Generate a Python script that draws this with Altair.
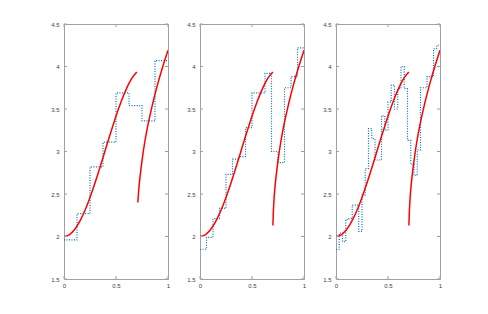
import altair as alt
import pandas as pd

# ---------------- data ----------------
x_ticks = [0, 0.5, 1]
y_ticks = [1.5, 2, 2.5, 3, 3.5, 4, 4.5]

# red curve, first branch (0 .. 0.7)
red1_x = [0, 0.05, 0.1, 0.15, 0.2, 0.25, 0.3, 0.35, 0.4, 0.45, 0.5, 0.55, 0.6, 0.65, 0.7]
red1_y = [2.000, 2.020, 2.079, 2.175, 2.303, 2.460, 2.638, 2.830, 3.029, 3.227,
          3.416, 3.589, 3.737, 3.857, 3.935]

# red curve, second branch (0.7 .. 1)
red2_x = [0.701, 0.705, 0.71, 0.72, 0.73, 0.75, 0.775, 0.8, 0.85, 0.9, 0.95, 1.0]
red2_y = [2.13, 2.28, 2.40, 2.57, 2.69, 2.89, 3.10, 3.27, 3.55, 3.79, 4.00, 4.19]
# first panel's second branch starts at x = 0.71
red2_start_panel1 = 2

# blue step approximations
levels_8 = [1.96, 2.27, 2.82, 3.11, 3.69, 3.54, 3.36, 4.07]
levels_16 = [1.85, 1.99, 2.21, 2.33, 2.73, 2.91, 2.94, 3.28,
             3.69, 3.69, 3.92, 3.00, 2.87, 3.75, 3.88, 4.22]
levels_32 = [1.85, 2.04, 1.94, 2.20, 2.21, 2.37, 2.37, 2.06,
             2.49, 2.80, 3.27, 3.15, 2.90, 2.90, 3.42, 3.25,
             3.58, 3.78, 3.50, 3.74, 4.00, 3.74, 3.13, 2.85,
             2.72, 3.02, 3.75, 3.75, 3.88, 3.88, 4.21, 4.25]

# ---------------- styling ----------------
W, H = 104, 255
BLUE = "#0072bd"
RED = "#ff0000"
BOX = "#a0a0a0"
TXT = "#404040"
TICK = 3

xs = alt.Scale(domain=[0, 1], nice=False, zero=False)
ys = alt.Scale(domain=[1.5, 4.5], nice=False, zero=False)

x_axis = alt.Axis(values=x_ticks, format="~g", ticks=False, domain=False, grid=False,
                  labelFontSize=6, labelColor=TXT, labelFont="Liberation Sans",
                  labelPadding=3, labelFlush=False, labelOverlap=False, title=None)
y_axis = alt.Axis(values=y_ticks, format="~g", ticks=False, domain=False, grid=False,
                  labelFontSize=6, labelColor=TXT, labelFont="Liberation Sans",
                  labelPadding=5, labelFlush=False, labelOverlap=False, title=None)

xt_df = pd.DataFrame({"t": x_ticks})
yt_df = pd.DataFrame({"t": y_ticks})


def panel(levels, r2_start):
    n = len(levels)
    step_df = pd.DataFrame({
        "x": [i / n for i in range(n)] + [1.0],
        "y": list(levels) + [levels[-1]],
    })
    red_df = pd.concat([
        pd.DataFrame({"x": red1_x, "y": red1_y, "seg": "a"}),
        pd.DataFrame({"x": red2_x[r2_start:], "y": red2_y[r2_start:], "seg": "b"}),
    ], ignore_index=True)

    blue = alt.Chart(step_df).mark_line(
        interpolate="step-after", color=BLUE, strokeWidth=1.2,
        strokeDash=[1, 1.5], clip=True
    ).encode(
        x=alt.X("x:Q", scale=xs, axis=x_axis),
        y=alt.Y("y:Q", scale=ys, axis=y_axis),
    )
    red = alt.Chart(red_df).mark_line(
        interpolate="monotone", color=RED, strokeWidth=1.5, clip=True
    ).encode(
        x=alt.X("x:Q", scale=xs, axis=x_axis),
        y=alt.Y("y:Q", scale=ys, axis=y_axis),
        detail="seg:N",
    )
    bt = alt.Chart(xt_df).mark_rule(color=BOX, strokeWidth=1).encode(
        x=alt.X("t:Q", scale=xs), y=alt.value(H), y2=alt.value(H - TICK))
    tt = alt.Chart(xt_df).mark_rule(color=BOX, strokeWidth=1).encode(
        x=alt.X("t:Q", scale=xs), y=alt.value(0), y2=alt.value(TICK))
    lt = alt.Chart(yt_df).mark_rule(color=BOX, strokeWidth=1).encode(
        y=alt.Y("t:Q", scale=ys), x=alt.value(0), x2=alt.value(TICK))
    rt = alt.Chart(yt_df).mark_rule(color=BOX, strokeWidth=1).encode(
        y=alt.Y("t:Q", scale=ys), x=alt.value(W), x2=alt.value(W - TICK))
    return alt.layer(blue, red, bt, tt, lt, rt).properties(width=W, height=H)


chart = alt.hconcat(
    panel(levels_8, red2_start_panel1),
    panel(levels_16, 0),
    panel(levels_32, 0),
    spacing=15,
).properties(
    padding={"left": 42, "top": 12, "right": 0, "bottom": 0},
    background="white",
).configure_view(
    stroke=BOX, strokeWidth=1
)

chart.save("out.html", embed_options={"renderer": "svg", "actions": False})
